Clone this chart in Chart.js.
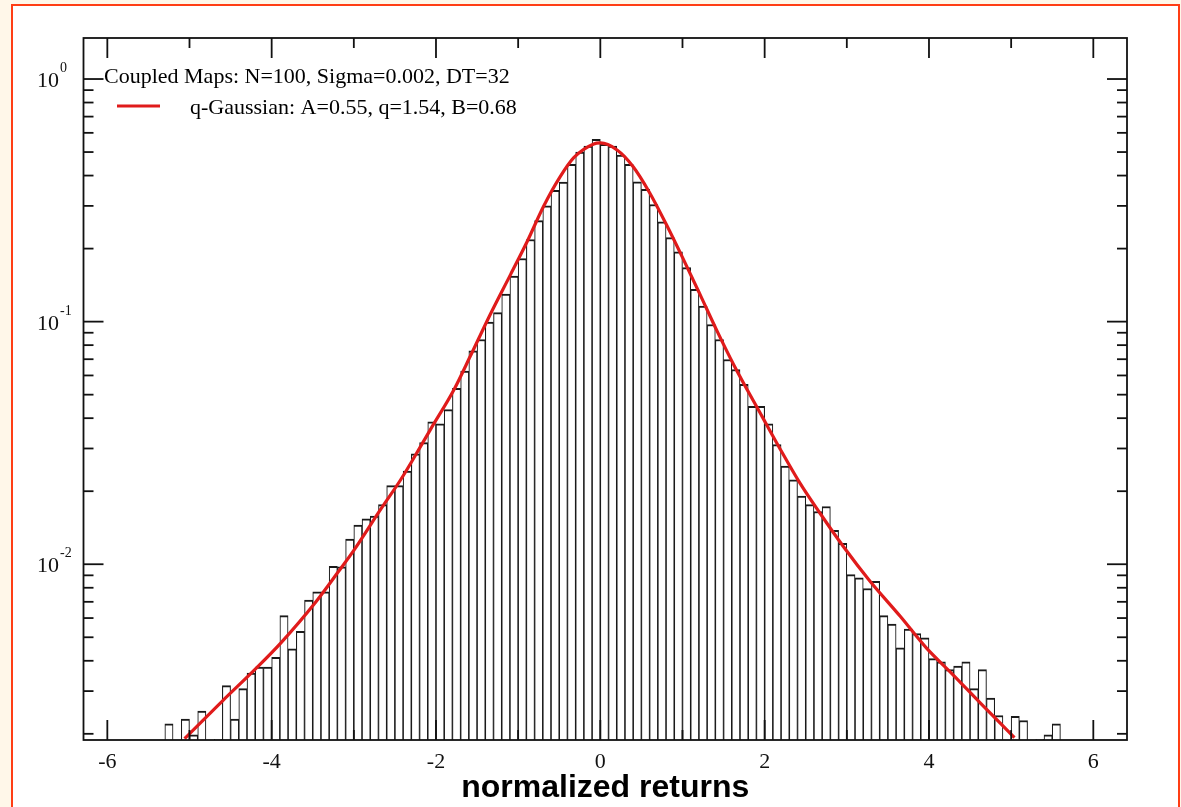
<!DOCTYPE html>
<html>
<head>
<meta charset="utf-8">
<script src="https://cdn.jsdelivr.net/npm/chart.js@4.4.1/dist/chart.umd.min.js"></script>
<style>
  html, body { margin: 0; padding: 0; background: #fff7e9; }
  body { width: 1181px; height: 807px; position: relative; overflow: hidden; }
  #frame { position: absolute; left: 11px; top: 4px; width: 1169px; height: 840px; box-sizing: border-box;
           border: 2px solid #ff3d14; background: #fff; }
  #chart { position: absolute; left: 0; top: 0; }
</style>
</head>
<body>
<div id="frame"></div>
<canvas id="chart" width="1181" height="807"></canvas>
<script>
/* histogram: bin centres (width 0.1) and heights */
const binCenters = [
  -5.25, -5.15, -5.05, -4.95, -4.85, -4.75, -4.65, -4.55, -4.45, -4.35,
  -4.25, -4.15, -4.05, -3.95, -3.85, -3.75, -3.65, -3.55, -3.45, -3.35,
  -3.25, -3.15, -3.05, -2.95, -2.85, -2.75, -2.65, -2.55, -2.45, -2.35,
  -2.25, -2.15, -2.05, -1.95, -1.85, -1.75, -1.65, -1.55, -1.45, -1.35,
  -1.25, -1.15, -1.05, -0.95, -0.85, -0.75, -0.65, -0.55, -0.45, -0.35,
  -0.25, -0.15, -0.05, 0.05, 0.15, 0.25, 0.35, 0.45, 0.55, 0.65,
  0.75, 0.85, 0.95, 1.05, 1.15, 1.25, 1.35, 1.45, 1.55, 1.65,
  1.75, 1.85, 1.95, 2.05, 2.15, 2.25, 2.35, 2.45, 2.55, 2.65,
  2.75, 2.85, 2.95, 3.05, 3.15, 3.25, 3.35, 3.45, 3.55, 3.65,
  3.75, 3.85, 3.95, 4.05, 4.15, 4.25, 4.35, 4.45, 4.55, 4.65,
  4.75, 4.85, 4.95, 5.05, 5.15, 5.25, 5.35, 5.45, 5.55
];
const binValues = [
  0.0022, null, 0.0023, 0.00198, 0.00248, null, 0.0019, 0.00316, 0.0023, 0.00307,
  0.00356, 0.00377, 0.00377, 0.00413, 0.00614, 0.00448, 0.00529, 0.00711, 0.00769, 0.00769,
  0.00981, 0.00976, 0.0127, 0.0145, 0.0154, 0.0158, 0.0176, 0.0211, 0.0211, 0.0242,
  0.0285, 0.0317, 0.0386, 0.0379, 0.0434, 0.0531, 0.0625, 0.0758, 0.0844, 0.0995,
  0.109, 0.130, 0.154, 0.182, 0.218, 0.261, 0.300, 0.348, 0.376, 0.445,
  0.500, 0.529, 0.564, 0.538, 0.529, 0.486, 0.445, 0.377, 0.351, 0.304,
  0.258, 0.222, 0.194, 0.167, 0.136, 0.116, 0.0973, 0.0844, 0.0698, 0.0635,
  0.0551, 0.0448, 0.0448, 0.0379, 0.0311, 0.0254, 0.0223, 0.0191, 0.0176, 0.0165,
  0.0173, 0.0138, 0.0122, 0.00906, 0.00878, 0.00794, 0.00851, 0.00614, 0.00567, 0.00452,
  0.00541, 0.00518, 0.00497, 0.00408, 0.00396, 0.00368, 0.0038, 0.00396, 0.00307, 0.00368,
  0.00281, 0.00238, null, 0.00236, 0.00227, null, 0.0019, 0.00198, 0.0022
];

/* q-Gaussian fit, points */
const curveX = [
  -5.06, -4.6, -4.19, -3.89, -3.48, -3.18, -3.0, -2.67, -2.43, -2.27,
  -2.07, -1.78, -1.58, -1.34, -1.09, -0.89, -0.69, -0.49, -0.32, -0.08,
  0.0, 0.2, 0.4, 0.6, 0.81, 1.01, 1.22, 1.42, 1.62, 1.97,
  2.19, 2.43, 2.67, 2.96, 3.28, 3.65, 3.97, 4.29, 4.62, 5.04
];
const curveY = [
  0.00191, 0.00273, 0.00372, 0.00473, 0.00687, 0.0094, 0.0114, 0.0169, 0.0223, 0.0274,
  0.0358, 0.0525, 0.0723, 0.107, 0.157, 0.214, 0.299, 0.395, 0.475, 0.540,
  0.545, 0.511, 0.435, 0.340, 0.249, 0.181, 0.128, 0.0916, 0.0668, 0.0406,
  0.0298, 0.0216, 0.0163, 0.0118, 0.00853, 0.0061, 0.00451, 0.00351, 0.00269, 0.00193
];

const xTicks = [-6, -4, -2, 0, 2, 4, 6];
const xMinorTicks = [-5, -3, -1, 1, 3, 5];
const yTicks = [1, 0.1, 0.01];
const yTickExp = ['0', '-1', '-2'];
const yMinorTicks = [
  0.9, 0.8, 0.7, 0.6, 0.5, 0.4, 0.3, 0.2,
  0.09, 0.08, 0.07, 0.06, 0.05, 0.04, 0.03, 0.02,
  0.009, 0.008, 0.007, 0.006, 0.005, 0.004, 0.003, 0.002
];

const histLabel = 'Coupled Maps: N=100, Sigma=0.002, DT=32';
const fitLabel = 'q-Gaussian: A=0.55, q=1.54, B=0.68';
const xTitle = 'normalized returns';

const RED = '#e01b1b';
const INK = '#111';
const SERIF = '"Liberation Serif", "DejaVu Serif", serif';

// grace-style frame: box, inward ticks on all four sides, y labels, legend
const graceFrame = {
  id: 'graceFrame',
  afterDraw(chart) {
    const { ctx, chartArea: a, scales: { x, y } } = chart;
    const seg = (x1, y1, x2, y2) => { ctx.beginPath(); ctx.moveTo(x1, y1); ctx.lineTo(x2, y2); ctx.stroke(); };
    ctx.save();
    ctx.strokeStyle = INK;
    ctx.lineWidth = 1.8;
    ctx.strokeRect(a.left, a.top, a.right - a.left, a.bottom - a.top);

    const tx = (v, len) => { const p = x.getPixelForValue(v); seg(p, a.bottom, p, a.bottom - len); seg(p, a.top, p, a.top + len); };
    const ty = (v, len) => { const p = y.getPixelForValue(v); seg(a.left, p, a.left + len, p); seg(a.right, p, a.right - len, p); };
    xTicks.forEach(v => tx(v, 20));
    xMinorTicks.forEach(v => tx(v, 10));
    yTicks.forEach(v => ty(v, 20));
    yMinorTicks.forEach(v => ty(v, 10));

    // 10^n labels with raised exponent
    ctx.fillStyle = INK;
    ctx.textBaseline = 'alphabetic';
    yTicks.forEach((v, i) => {
      const p = y.getPixelForValue(v);
      ctx.font = '22px ' + SERIF;
      ctx.textAlign = 'right';
      ctx.fillText('10', 59, p + 8);
      ctx.font = '14px ' + SERIF;
      ctx.textAlign = 'left';
      ctx.fillText(yTickExp[i], 60, p - 7);
    });

    // legend inside the plot
    const ds = chart.data.datasets;
    ctx.font = '22px ' + SERIF;
    ctx.textAlign = 'left';
    ctx.fillStyle = '#000';
    ctx.fillText(ds[0].label, 104, 83);
    ctx.strokeStyle = RED;
    ctx.lineWidth = 3;
    seg(117, 106, 160, 106);
    ctx.fillText(ds[1].label, 190, 114);
    ctx.restore();
  }
};

new Chart(document.getElementById('chart'), {
  type: 'bar',
  data: {
    datasets: [
      {
        type: 'bar',
        label: histLabel,
        data: binCenters.map((c, i) => ({ x: c, y: binValues[i] })),
        backgroundColor: '#fff',
        borderColor: '#1a1a1a',
        borderWidth: { top: 2, left: 1.1, right: 1.1, bottom: 0 },
        barPercentage: 1,
        categoryPercentage: 1,
        order: 2
      },
      {
        type: 'line',
        label: fitLabel,
        data: curveX.map((c, i) => ({ x: c, y: curveY[i] })),
        borderColor: RED,
        borderWidth: 3.2,
        pointRadius: 0,
        fill: false,
        cubicInterpolationMode: 'monotone',
        order: 1
      }
    ]
  },
  options: {
    responsive: false,
    animation: false,
    devicePixelRatio: 1,
    layout: { padding: { top: 38, right: 54, left: 0, bottom: 0 } },
    plugins: { legend: { display: false }, tooltip: { enabled: false } },
    scales: {
      x: {
        type: 'linear',
        min: -6.29,
        max: 6.41,
        offset: false,
        grid: { display: false, drawTicks: false },
        border: { display: false },
        afterBuildTicks: s => { s.ticks = xTicks.map(v => ({ value: v })); },
        afterFit: s => { s.height = 67; },
        ticks: {
          font: { family: SERIF, size: 22 },
          color: INK,
          padding: 9,
          maxRotation: 0,
          autoSkip: false,
          callback: v => String(v)
        },
        title: {
          display: true,
          text: xTitle,
          color: '#000',
          font: { family: '"Liberation Sans", Arial, sans-serif', size: 32, weight: 'bold', lineHeight: 1 },
          padding: { top: 0, bottom: 3 }
        }
      },
      y: {
        type: 'logarithmic',
        min: 0.001886,
        max: 1.476,
        grid: { display: false, drawTicks: false },
        border: { display: false },
        ticks: { display: false },
        afterFit: s => { s.width = 83.5; }
      }
    }
  },
  plugins: [graceFrame]
});
</script>
</body>
</html>
